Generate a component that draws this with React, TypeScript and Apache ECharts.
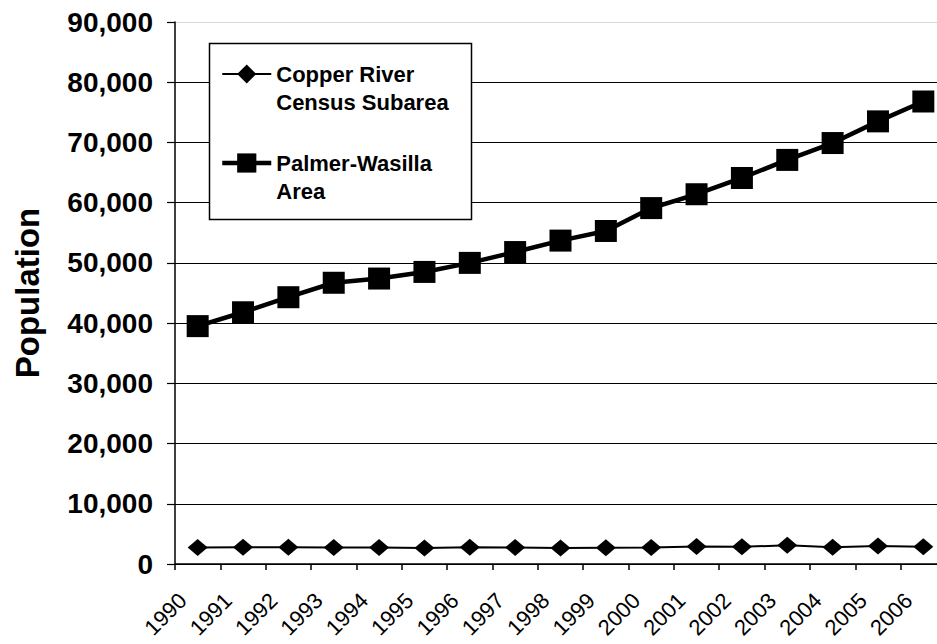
import React, { useEffect, useRef } from "react";
import * as echarts from "echarts";

const years = ["1990","1991","1992","1993","1994","1995","1996","1997","1998","1999","2000","2001","2002","2003","2004","2005","2006"];
const copperRiver = [2750, 2800, 2800, 2750, 2750, 2650, 2800, 2750, 2650, 2700, 2750, 2900, 2850, 3100, 2800, 3000, 2850];
const palmerWasilla = [39500, 41800, 44300, 46700, 47400, 48500, 50000, 51800, 53700, 55300, 59100, 61400, 64100, 67100, 69900, 73500, 76800];
const seriesNames = ["Copper River\nCensus Subarea", "Palmer-Wasilla\nArea"];
const yTicks = { min: 0, max: 90000, interval: 10000 };

const FONT = "'Liberation Sans', Arial, sans-serif";

export default function App() {
  const ref = useRef<HTMLDivElement>(null);
  useEffect(() => {
    if (!ref.current) return;
    const chart = echarts.init(ref.current, null, { renderer: "svg" });
    const gridColors = Array.from({ length: 10 }, (_, i) => (i === 9 ? "#d8d8d8" : "#000"));
    chart.setOption({
      animation: false,
      backgroundColor: "#fff",
      textStyle: { fontFamily: FONT, color: "#000" },
      grid: { left: 175, top: 22, bottom: 80, right: -9, outerBoundsMode: "none", containLabel: false },
      graphic: [
        {
          type: "rect",
          z: 3,
          shape: { x: 209.5, y: 43.5, width: 262, height: 176 },
          style: { fill: "#fff", stroke: "#000", lineWidth: 1.5 },
        },
      ],
      legend: {
        z: 5,
        orient: "vertical",
        left: 220,
        top: 32,
        padding: 0,
        itemGap: 5,
        itemWidth: 49,
        itemHeight: 24,
        data: [
          { name: seriesNames[0], lineStyle: { width: 2 } },
          { name: seriesNames[1], lineStyle: { width: 4.5 } },
        ],
        formatter: (name: string) => " \n" + name,
        textStyle: {
          fontFamily: FONT,
          fontSize: 22,
          fontWeight: "bold",
          color: "#000",
          lineHeight: 28,
        },
      },
      xAxis: {
        type: "category",
        data: years,
        boundaryGap: true,
        axisLine: { lineStyle: { color: "#000", width: 1.5 } },
        axisTick: { show: true, length: 6, inside: false, alignWithLabel: false, lineStyle: { color: "#000", width: 1.5 } },
        axisLabel: {
          interval: 0,
          rotate: 45,
          margin: 18,
          padding: [0, 21, 0, 0],
          hideOverlap: false,
          fontFamily: FONT,
          fontSize: 22,
          color: "#000",
        },
        splitLine: { show: false },
      },
      yAxis: {
        type: "value",
        min: yTicks.min,
        max: yTicks.max,
        interval: yTicks.interval,
        name: "Population",
        nameLocation: "middle",
        nameRotate: 90,
        nameGap: 131,
        nameTextStyle: { fontFamily: FONT, fontSize: 33, fontWeight: "bold", color: "#000" },
        axisLine: { show: true, lineStyle: { color: "#000", width: 1.5 } },
        axisTick: { show: true, length: 8, inside: false, lineStyle: { color: "#000", width: 1.2 } },
        axisLabel: {
          margin: 22,
          fontFamily: FONT,
          fontSize: 28,
          fontWeight: "bold",
          color: "#000",
          formatter: (v: number) => v.toLocaleString("en-US"),
        },
        splitLine: { show: true, lineStyle: { color: gridColors, width: 1.2 } },
      },
      series: [
        {
          name: seriesNames[0],
          type: "line",
          data: copperRiver,
          symbol: "diamond",
          symbolSize: [20, 17],
          lineStyle: { color: "#000", width: 2 },
          itemStyle: { color: "#000" },
          z: 2,
        },
        {
          name: seriesNames[1],
          type: "line",
          data: palmerWasilla,
          symbol: "rect",
          symbolSize: 22,
          lineStyle: { color: "#000", width: 4.5 },
          itemStyle: { color: "#000" },
          z: 2,
        },
      ],
    });
    return () => chart.dispose();
  }, []);
  return <div ref={ref} style={{ width: 937, height: 644, position: "absolute", left: 0, top: 0 }} />;
}
